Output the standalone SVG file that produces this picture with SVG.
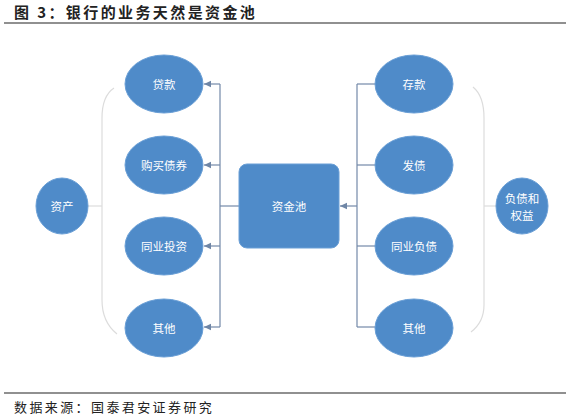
<svg xmlns="http://www.w3.org/2000/svg" width="572" height="416" viewBox="0 0 572 416">
<defs>
<marker id="arr" markerWidth="8" markerHeight="8" refX="7" refY="4" orient="auto" markerUnits="userSpaceOnUse">
<path d="M0,0.8 L7,4 L0,7.2 Z" fill="#6f86a6"/>
</marker>
</defs>
<style>
.node{fill:#4f8bc9;stroke:#6a9fd6;stroke-width:1}
.lbl{font-family:"Noto Sans CJK SC","Noto Sans CJK JP",sans-serif;font-size:11.5px;fill:#ffffff;text-anchor:middle;dominant-baseline:central}
.con{stroke:#7389a8;stroke-width:1.2;fill:none}
.brk{stroke:#dcdcdc;stroke-width:1.2;fill:none}
.cap{font-family:"Noto Sans CJK SC",sans-serif;fill:#222}
</style>
<rect width="572" height="416" fill="#ffffff"/>
<text class="cap" x="14" y="18" font-size="15" font-weight="bold" letter-spacing="2.4">图 3：银行的业务天然是资金池</text>
<line x1="4" y1="23" x2="566" y2="23" stroke="#222" stroke-width="1.2"/>
<g id="brackets">
<path class="brk" d="M114,88 Q102,96 102,118 L102,300 Q102,322 117,334"/>
<path class="brk" d="M473,87 Q484,96 484,118 L484,305 Q484,322 471,332"/>
</g>
<g id="connectors">
<line class="con" x1="88" y1="206" x2="102" y2="206" style="stroke:#dcdcdc"/>
<line class="con" x1="484" y1="206" x2="497" y2="206" style="stroke:#dcdcdc"/>
<line class="con" x1="220" y1="84" x2="220" y2="327"/>
<line class="con" x1="240" y1="206" x2="220" y2="206"/>
<line class="con" x1="220" y1="84" x2="204" y2="84" marker-end="url(#arr)"/>
<line class="con" x1="220" y1="165" x2="204" y2="165" marker-end="url(#arr)"/>
<line class="con" x1="220" y1="246" x2="204" y2="246" marker-end="url(#arr)"/>
<line class="con" x1="220" y1="327" x2="204" y2="327" marker-end="url(#arr)"/>
<line class="con" x1="357" y1="84" x2="357" y2="327"/>
<line class="con" x1="357" y1="84" x2="376" y2="84"/>
<line class="con" x1="357" y1="165" x2="376" y2="165"/>
<line class="con" x1="357" y1="246" x2="376" y2="246"/>
<line class="con" x1="357" y1="327" x2="376" y2="327"/>
<line class="con" x1="357" y1="206" x2="340" y2="206" marker-end="url(#arr)"/>
</g>
<g id="n-assets"><ellipse class="node" cx="62" cy="206" rx="26" ry="28"/><text class="lbl" x="62" y="206">资产</text></g>
<g id="n-loans"><ellipse class="node" cx="164" cy="84" rx="39" ry="29"/><text class="lbl" x="164" y="84">贷款</text></g>
<g id="n-bonds"><ellipse class="node" cx="164" cy="165" rx="39" ry="29"/><text class="lbl" x="164" y="165">购买债券</text></g>
<g id="n-interbank-inv"><ellipse class="node" cx="164" cy="246" rx="39" ry="29"/><text class="lbl" x="164" y="246">同业投资</text></g>
<g id="n-other-l"><ellipse class="node" cx="164" cy="328" rx="39" ry="29"/><text class="lbl" x="164" y="328">其他</text></g>
<g id="n-pool"><rect class="node" x="239" y="164" width="100" height="84" rx="8"/><text class="lbl" x="289" y="206">资金池</text></g>
<g id="n-deposits"><ellipse class="node" cx="414" cy="84" rx="39" ry="29"/><text class="lbl" x="414" y="84">存款</text></g>
<g id="n-issue"><ellipse class="node" cx="414" cy="165" rx="39" ry="29"/><text class="lbl" x="414" y="165">发债</text></g>
<g id="n-interbank-liab"><ellipse class="node" cx="414" cy="246" rx="39" ry="29"/><text class="lbl" x="414" y="246">同业负债</text></g>
<g id="n-other-r"><ellipse class="node" cx="414" cy="328" rx="39" ry="29"/><text class="lbl" x="414" y="328">其他</text></g>
<g id="n-liab"><ellipse class="node" cx="522" cy="206" rx="26" ry="28"/><text class="lbl" x="522" y="198">负债和</text><text class="lbl" x="522" y="215">权益</text></g>
<line x1="4" y1="393" x2="566" y2="393" stroke="#222" stroke-width="1.2"/>
<text class="cap" x="14" y="412" font-size="13" letter-spacing="2.4">数据来源：国泰君安证券研究</text>
</svg>
